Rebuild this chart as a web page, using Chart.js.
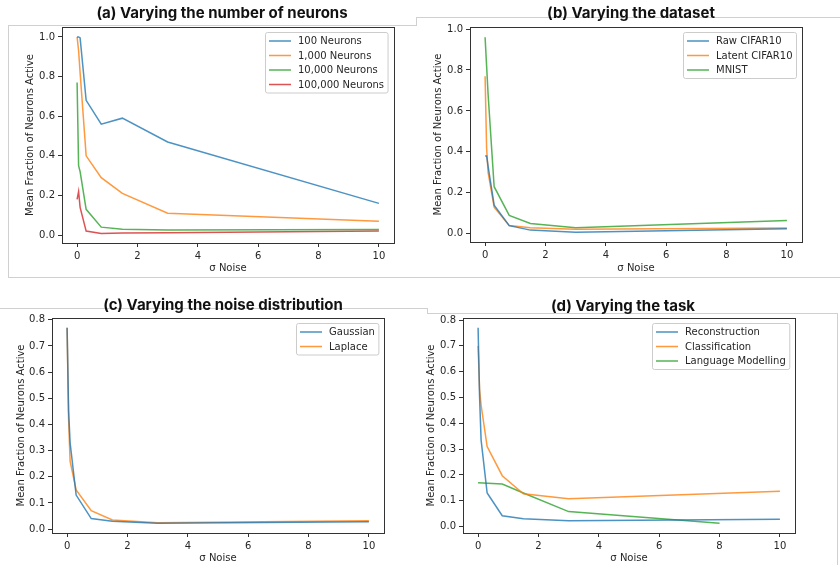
<!DOCTYPE html>
<html>
<head>
<meta charset="utf-8">
<script src="https://cdn.jsdelivr.net/npm/chart.js@4.4.1/dist/chart.umd.min.js"></script>
<style>
  body { margin: 0; background: #fff; }
  #wrap { position: relative; width: 840px; height: 565px; overflow: hidden; background: #fff; }
  canvas { position: absolute; }
  .ttl { position: absolute; width: 400px; text-align: center; font: bold 15px Inter, "DejaVu Sans", sans-serif; line-height: 18px; color: #111; z-index: 2; }
  .ln { position: absolute; background: #d0d0d0; }
</style>
</head>
<body>
<div id="wrap">
  <!-- faint panel frames from the original screenshot -->
  <div class="ln" style="left:8px;top:25px;width:408px;height:1px"></div>
  <div class="ln" style="left:8px;top:25px;width:1px;height:252px"></div>
  <div class="ln" style="left:8px;top:277px;width:832px;height:1px"></div>
  <div class="ln" style="left:416px;top:17px;width:1px;height:9px"></div>
  <div class="ln" style="left:416px;top:17px;width:424px;height:1px"></div>
  <div class="ln" style="left:0px;top:308px;width:427px;height:1px"></div>
  <div class="ln" style="left:427px;top:308px;width:1px;height:5px"></div>
  <div class="ln" style="left:427px;top:313px;width:410px;height:1px"></div>
  <div class="ln" style="left:837px;top:313px;width:1px;height:252px"></div>

  <div class="ttl" style="left:22px;top:4px">(a) Varying the number of neurons</div>
  <div class="ttl" style="left:431px;top:4px">(b) Varying the dataset</div>
  <div class="ttl" style="left:23px;top:296px">(c) Varying the noise distribution</div>
  <div class="ttl" style="left:423px;top:297px">(d) Varying the task</div>

  <canvas id="chartA" width="404" height="264" style="left:0px;top:12px"></canvas>
  <canvas id="chartB" width="392" height="264" style="left:420px;top:12px"></canvas>
  <canvas id="chartC" width="394" height="262" style="left:0px;top:303px"></canvas>
  <canvas id="chartD" width="385" height="262" style="left:420px;top:303px"></canvas>
</div>
<script>
// noise levels (sigma) shared by most runs
var sigma = [0, 0.05, 0.1, 0.3, 0.8, 1.5, 3, 10];
var xTicks = [0, 2, 4, 6, 8, 10];
var yTicksAB = [0, 0.2, 0.4, 0.6, 0.8, 1.0];
var yTicksCD = [0, 0.1, 0.2, 0.3, 0.4, 0.5, 0.6, 0.7, 0.8];

// (a) number of neurons
var neurons100 = [1.0, 1.0, 0.995, 0.68, 0.56, 0.59, 0.47, 0.16];
var neurons1k = [1.0, 0.93, 0.82, 0.40, 0.29, 0.21, 0.11, 0.07];
var neurons10k = [0.77, 0.35, 0.32, 0.13, 0.04, 0.03, 0.025, 0.028];
var neurons100k = [0.18, 0.22, 0.14, 0.02, 0.008, 0.01, 0.012, 0.02];

// (b) dataset
var rawCifar = [0.38, 0.38, 0.33, 0.14, 0.04, 0.018, 0.008, 0.025];
var latentCifar = [0.77, 0.42, 0.30, 0.13, 0.04, 0.03, 0.022, 0.028];
var mnist = [0.96, 0.82, 0.68, 0.23, 0.09, 0.05, 0.03, 0.065];

// (c) noise distribution
var gaussian = [0.77, 0.45, 0.33, 0.13, 0.04, 0.03, 0.022, 0.028];
var laplace = [0.77, 0.42, 0.26, 0.15, 0.07, 0.035, 0.024, 0.032];

// (d) task
var reconstruction = [0.77, 0.50, 0.335, 0.13, 0.042, 0.03, 0.022, 0.028];
var classification = [0.70, 0.53, 0.47, 0.31, 0.197, 0.127, 0.108, 0.137];
var langSigma = [0, 0.8, 1.5, 3, 8];
var languageModelling = [0.17, 0.165, 0.13, 0.058, 0.013];

var blue = "rgba(31,119,180,0.8)";
var orange = "rgba(255,127,14,0.8)";
var green = "rgba(44,160,44,0.8)";
var red = "rgba(214,39,40,0.8)";

var tickFont = { family: "DejaVu Sans", size: 10 };
var txt = "#262626";

function pts(xs, ys) {
  return xs.map(function (x, i) { return { x: x, y: ys[i] }; });
}

function line(label, xs, ys, color) {
  return { label: label, data: pts(xs, ys), borderColor: color, backgroundColor: color,
           borderWidth: 1.5, pointRadius: 0, tension: 0, fill: false };
}

// box round the plot area, like matplotlib axes
var frame = {
  id: "frame",
  afterDraw: function (chart) {
    var a = chart.chartArea, ctx = chart.ctx;
    ctx.save();
    ctx.strokeStyle = "#333";
    ctx.lineWidth = 1;
    ctx.strokeRect(Math.round(a.left) + 0.5, Math.round(a.top) + 0.5,
                   Math.round(a.right - a.left), Math.round(a.bottom - a.top));
    ctx.restore();
  }
};

// legend box in the upper right corner of the axes
var mplLegend = {
  id: "mplLegend",
  afterDatasetsDraw: function (chart) {
    var a = chart.chartArea, ctx = chart.ctx;
    var sets = chart.data.datasets;
    ctx.save();
    ctx.font = "10px 'DejaVu Sans'";
    var tw = Math.max.apply(null, sets.map(function (d) { return ctx.measureText(d.label).width; }));
    var rowH = 14.5, padY = 8.5;
    var w = 3.5 + 22 + 7 + tw + 4;
    var h = padY * 2 + rowH * (sets.length - 1);
    var x = Math.round(a.right - 6 - w) + 0.5, y = Math.round(a.top + 5) + 0.5;
    ctx.beginPath();
    ctx.roundRect(x, y, w, h, 2);
    ctx.fillStyle = "rgba(255,255,255,0.8)";
    ctx.fill();
    ctx.strokeStyle = "#cccccc";
    ctx.lineWidth = 1;
    ctx.stroke();
    sets.forEach(function (d, i) {
      var cy = y + padY + i * rowH;
      ctx.beginPath();
      ctx.moveTo(x + 3.5, cy);
      ctx.lineTo(x + 25.5, cy);
      ctx.strokeStyle = d.borderColor;
      ctx.lineWidth = 1.5;
      ctx.stroke();
      ctx.fillStyle = txt;
      ctx.textBaseline = "middle";
      ctx.textAlign = "left";
      ctx.fillText(d.label, x + 32.5, cy + 0.5);
    });
    ctx.restore();
  }
};

function makeChart(id, datasets, cfg) {
  return new Chart(document.getElementById(id), {
    type: "line",
    data: { datasets: datasets },
    plugins: [frame, mplLegend],
    options: {
      responsive: false,
      animation: false,
      layout: { padding: { top: 15, right: 10, bottom: 0, left: 0 } },
      plugins: { legend: { display: false }, tooltip: { enabled: false } },
      scales: {
        x: {
          type: "linear", min: -0.5, max: 10.5,
          afterBuildTicks: function (ax) { ax.ticks = xTicks.map(function (v) { return { value: v }; }); },
          afterFit: function (s) { s.height = cfg.xh; },
          grid: { drawOnChartArea: false, drawTicks: true, tickLength: 4, color: "#333" },
          border: { color: "#333" },
          ticks: { padding: 3, font: tickFont, color: txt, maxRotation: 0,
                   callback: function (v) { return String(v); } },
          title: { display: true, text: "σ Noise", font: tickFont, color: txt,
                   padding: { top: 0, bottom: cfg.xpad } }
        },
        y: {
          type: "linear", min: cfg.ymin, max: cfg.ymax,
          afterBuildTicks: function (ax) { ax.ticks = cfg.yticks.map(function (v) { return { value: v }; }); },
          afterFit: function (s) { s.width = cfg.yw; },
          grid: { drawOnChartArea: false, drawTicks: true, tickLength: 4, color: "#333" },
          border: { color: "#333" },
          ticks: { padding: 3, font: tickFont, color: txt,
                   callback: function (v) { return v.toFixed(1); } },
          title: { display: true, text: "Mean Fraction of Neurons Active", font: tickFont, color: txt,
                   padding: { top: cfg.ypad, bottom: 0 } }
        }
      }
    }
  });
}

makeChart("chartA", [
  line("100 Neurons", sigma, neurons100, blue),
  line("1,000 Neurons", sigma, neurons1k, orange),
  line("10,000 Neurons", sigma, neurons10k, green),
  line("100,000 Neurons", sigma, neurons100k, red)
], { xh: 33, xpad: 2, yw: 62, ypad: 24, ymin: -0.04, ymax: 1.05, yticks: yTicksAB });

makeChart("chartB", [
  line("Raw CIFAR10", sigma, rawCifar, blue),
  line("Latent CIFAR10", sigma, latentCifar, orange),
  line("MNIST", sigma, mnist, green)
], { xh: 34, xpad: 2, yw: 50, ypad: 12, ymin: -0.04, ymax: 1.01, yticks: yTicksAB });

makeChart("chartC", [
  line("Gaussian", sigma, gaussian, blue),
  line("Laplace", sigma, laplace, orange)
], { xh: 32, xpad: 1, yw: 52, ypad: 15, ymin: -0.015, ymax: 0.807, yticks: yTicksCD });

makeChart("chartD", [
  line("Reconstruction", sigma, reconstruction, blue),
  line("Classification", sigma, classification, orange),
  line("Language Modelling", langSigma, languageModelling, green)
], { xh: 32, xpad: 1, yw: 43, ypad: 5, ymin: -0.025, ymax: 0.808, yticks: yTicksCD });
</script>
</body>
</html>
